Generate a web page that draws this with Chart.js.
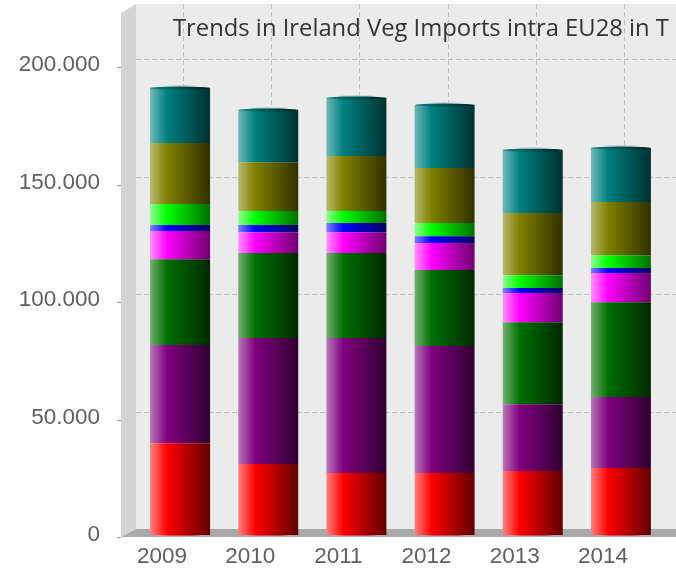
<!DOCTYPE html>
<html>
<head>
<meta charset="utf-8">
<style>
  html, body { margin: 0; padding: 0; background: #fff; overflow: hidden; }
  #wrap { width: 676px; height: 571px; }
</style>
<script src="https://cdn.jsdelivr.net/npm/chart.js@4"></script>
</head>
<body>
<div id="wrap"><canvas id="vegChart" width="676" height="571"></canvas></div>
<script>
const chartTitle = 'Trends in Ireland Veg Imports intra EU28 in T';
const years = ['2009', '2010', '2011', '2012', '2013', '2014'];
const yTicks = [0, 50000, 100000, 150000, 200000];

// stacked segments (bottom to top)
const redValues = [39100, 30200, 26400, 26400, 27200, 28500];
const purpleValues = [41800, 53600, 57400, 54000, 28500, 30200];
const greenValues = [36500, 36200, 36200, 32400, 34900, 40400];
const magentaValues = [12000, 8900, 8900, 11500, 12400, 12400];
const blueValues = [2500, 3000, 3900, 2900, 2100, 2100];
const limeValues = [9000, 6000, 5100, 5600, 5500, 5500];
const oliveValues = [25900, 20800, 23400, 23400, 26400, 22600];
const tealValues = [23400, 22200, 24700, 26800, 26800, 23000];

// left, mid and right colour of each cylinder
const redShades = ['#ff8080', '#ff0000', '#600000'];
const purpleShades = ['#b878b8', '#800080', '#300030'];
const greenShades = ['#70b070', '#007000', '#002800'];
const magentaShades = ['#ff90ff', '#ff00ff', '#700070'];
const blueShades = ['#8080ff', '#0000ff', '#000060'];
const limeShades = ['#90ff90', '#00ff00', '#007000'];
const oliveShades = ['#b8b870', '#808000', '#303000'];
const tealShades = ['#70b8b8', '#008080', '#003030'];

const barHalfWidth = 30;

function cylinderFill(ctx, centre, shades) {
  const g = ctx.createLinearGradient(centre - barHalfWidth, 0, centre + barHalfWidth, 0);
  g.addColorStop(0, shades[0]);
  g.addColorStop(0.28, shades[1]);
  g.addColorStop(1, shades[2]);
  return g;
}

function shaded(shades) {
  return function(context) {
    const chart = context.chart;
    if (!chart.scales.x || context.dataIndex === undefined) return shades[1];
    const centre = chart.scales.x.getPixelForValue(context.dataIndex);
    // scale has no size yet on the first pass
    if (!Number.isFinite(centre)) return shades[1];
    return cylinderFill(chart.ctx, centre, shades);
  };
}

function series(label, data, shades) {
  return { label: label, data: data, backgroundColor: shaded(shades), borderWidth: 0 };
}

// the fake 3d box behind the bars
const wallsPlugin = {
  id: 'walls',
  beforeDatasetsDraw(chart) {
    const ctx = chart.ctx;
    const x = chart.scales.x;
    const y = chart.scales.y;
    const left = chart.chartArea.left;
    const top = 4;
    const floorBack = y.getPixelForValue(0) - 6;
    const floorFront = y.getPixelForValue(0) + 2;
    ctx.save();
    ctx.fillStyle = '#ebebeb';
    ctx.fillRect(left, top, chart.width - left, floorBack - top);
    ctx.fillStyle = '#d4d4d4';
    ctx.beginPath();
    ctx.moveTo(left - 15, top + 9);
    ctx.lineTo(left, top);
    ctx.lineTo(left, floorBack);
    ctx.lineTo(left - 15, floorFront);
    ctx.fill();
    ctx.fillStyle = '#a9a9a9';
    ctx.beginPath();
    ctx.moveTo(left, floorBack);
    ctx.lineTo(chart.width, floorBack);
    ctx.lineTo(chart.width, floorFront);
    ctx.lineTo(left - 15, floorFront);
    ctx.fill();

    ctx.strokeStyle = '#c0c0c0';
    ctx.setLineDash([5, 3]);
    ctx.lineWidth = 1;
    ctx.beginPath();
    y.ticks.forEach(function(t) {
      if (t.value === 0) return;
      const py = Math.round(y.getPixelForValue(t.value) - 6) + 0.5;
      ctx.moveTo(left, py);
      ctx.lineTo(chart.width, py);
    });
    years.forEach(function(name, i) {
      const px = Math.round(x.getPixelForValue(i) + 3) + 0.5;
      ctx.moveTo(px, top);
      ctx.lineTo(px, floorBack);
    });
    ctx.stroke();

    // tick marks on the front edge of the side wall
    ctx.setLineDash([]);
    ctx.strokeStyle = '#999';
    ctx.beginPath();
    y.ticks.forEach(function(t) {
      const py = Math.round(y.getPixelForValue(t.value) + 2) + 0.5;
      ctx.moveTo(left - 19, py);
      ctx.lineTo(left - 15, py);
    });
    ctx.stroke();
    ctx.restore();
  },
  afterDatasetsDraw(chart) {
    // elliptical cap on top, round bottom on the red part
    const ctx = chart.ctx;
    const x = chart.scales.x;
    const topMeta = chart.getDatasetMeta(chart.data.datasets.length - 1);
    const bottomMeta = chart.getDatasetMeta(0);
    ctx.save();
    years.forEach(function(name, i) {
      const centre = x.getPixelForValue(i);
      ctx.fillStyle = '#c4cfcf';
      ctx.beginPath();
      ctx.ellipse(centre, topMeta.data[i].y - 1, 19, 2, 0, 0, Math.PI * 2);
      ctx.fill();
      ctx.fillStyle = cylinderFill(ctx, centre, ['#208080', '#006868', '#002020']);
      ctx.beginPath();
      ctx.ellipse(centre, topMeta.data[i].y, barHalfWidth, 1.5, 0, 0, Math.PI * 2);
      ctx.fill();
      ctx.fillStyle = cylinderFill(ctx, centre, redShades);
      ctx.beginPath();
      ctx.ellipse(centre, bottomMeta.data[i].base - 1, barHalfWidth, 1.5, 0, 0, Math.PI * 2);
      ctx.fill();
    });
    ctx.fillStyle = '#333';
    ctx.font = '23.8px "Open Sans"';
    ctx.textBaseline = 'middle';
    ctx.fillText(chartTitle, 173, 29);
    ctx.restore();
  }
};

new Chart(document.getElementById('vegChart'), {
  type: 'bar',
  data: {
    labels: years,
    datasets: [
      series('Red', redValues, redShades),
      series('Purple', purpleValues, purpleShades),
      series('Green', greenValues, greenShades),
      series('Magenta', magentaValues, magentaShades),
      series('Blue', blueValues, blueShades),
      series('Lime', limeValues, limeShades),
      series('Olive', oliveValues, oliveShades),
      series('Teal', tealValues, tealShades)
    ]
  },
  options: {
    responsive: false,
    animation: false,
    layout: { padding: { top: 4, right: 11 } },
    categoryPercentage: 1,
    barPercentage: 0.68,
    plugins: {
      legend: { display: false },
      tooltip: { enabled: false },
      title: { display: false }
    },
    scales: {
      x: {
        stacked: true,
        grid: { display: false },
        border: { display: false },
        afterFit(scale) { scale.height = 36; },
        ticks: {
          color: '#606060',
          font: { family: 'Liberation Sans', size: 22.5 },
          maxRotation: 0,
          labelOffset: -18,
          padding: 0
        }
      },
      y: {
        stacked: true,
        min: 0,
        max: 226000,
        grid: { display: false, tickLength: 33 },
        border: { display: false },
        afterBuildTicks(scale) { scale.ticks = yTicks.map(function(v) { return { value: v }; }); },
        afterFit(scale) {
          scale.width = 136;
          scale.paddingTop = 0;
          scale.paddingBottom = 0;
        },
        ticks: {
          color: '#606060',
          padding: 3,
          font: { family: 'Liberation Sans', size: 22.5 },
          callback(value) { return value.toLocaleString('de-DE'); }
        }
      }
    }
  },
  plugins: [wallsPlugin]
});
</script>
</body>
</html>
